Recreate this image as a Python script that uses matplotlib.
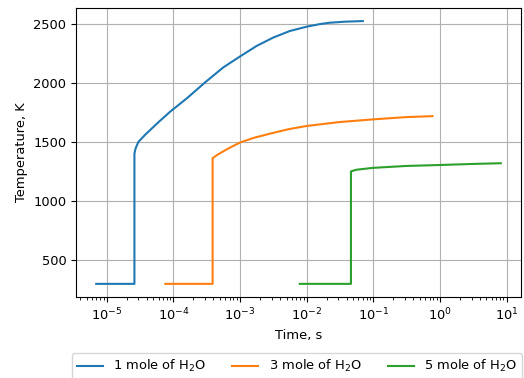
import matplotlib
matplotlib.use("Agg")
import matplotlib.pyplot as plt

# --- data ---
# 1 mole of H2O
t1 = [6.97e-6, 2.61e-5, 2.61e-5, 2.67e-5, 2.74e-5, 2.99e-5, 3.77e-5, 5.96e-5, 8.93e-5, 1.59e-4,
      2.99e-4, 5.61e-4, 9.97e-4, 1.77e-3, 3.14e-3, 5.59e-3, 1.01e-2, 1.6e-2, 2.22e-2, 3.8e-2, 6.98e-2]
T1 = [300, 300, 1400, 1428, 1450, 1500, 1560, 1666, 1755, 1868,
      2003, 2130, 2222, 2311, 2382, 2438, 2475, 2497, 2508, 2517, 2522]

# 3 mole of H2O
t3 = [7.6e-5, 3.89e-4, 3.89e-4, 4.72e-4, 6.66e-4, 1.0e-3, 1.67e-3, 2.97e-3, 5.27e-3,
      1.0e-2, 3.1e-2, 0.1, 0.31, 0.776]
T3 = [300, 300, 1363, 1396, 1444, 1495, 1537, 1573, 1607,
      1635, 1668, 1691, 1710, 1718]

# 5 mole of H2O
t5 = [7.9e-3, 0.0463, 0.0463, 0.056, 0.1, 0.316, 1.0, 3.16, 8.2]
T5 = [300, 300, 1251, 1265, 1281, 1297, 1305, 1314, 1320]

labels = ["1 mole of H$_2$O", "3 mole of H$_2$O", "5 mole of H$_2$O"]

plt.rcParams["font.size"] = 9.4

fig = plt.figure(figsize=(5.24, 3.78), dpi=100)
ax = fig.add_axes([0.145, 0.2143, 0.8493, 0.7647])

ax.plot(t1, T1, label=labels[0])
ax.plot(t3, T3, label=labels[1])
ax.plot(t5, T5, label=labels[2])

ax.set_xscale("log")
ax.set_xlabel("Time, s")
ax.set_ylabel("Temperature, K")
ax.grid(True)

fig.legend(loc="upper center", bbox_to_anchor=(297 / 524, 1 - 353 / 378),
           ncol=3, borderaxespad=0, fontsize=9.35)

fig.savefig("out.png", dpi=100)
